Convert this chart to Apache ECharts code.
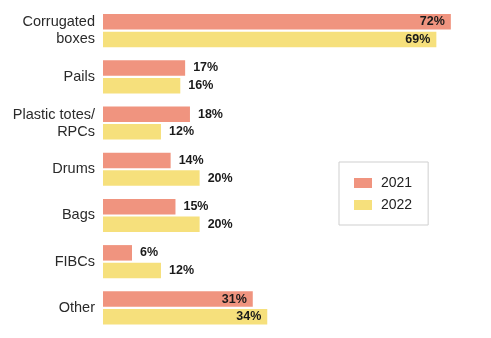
<!DOCTYPE html>
<html><head><meta charset="utf-8">
<script src="https://cdn.jsdelivr.net/npm/echarts@6/dist/echarts.min.js"></script>
<style>html,body{margin:0;padding:0;background:#fff}#c{width:491px;height:338px}</style>
</head><body><div id="c"></div>
<script>
const categories = ["Corrugated\nboxes", "Pails", "Plastic totes/\nRPCs", "Drums", "Bags", "FIBCs", "Other"];
const values2021 = [72, 17, 18, 14, 15, 6, 31];
const values2022 = [69, 16, 12, 20, 20, 12, 34];
const insideCats = ["Corrugated\nboxes", "Other"];

function mk(vals) {
  return vals.map((v, i) => {
    const inside = insideCats.includes(categories[i]);
    return { value: v, label: { position: inside ? 'insideRight' : 'right', distance: inside ? 6 : 8 } };
  });
}
const chart = echarts.init(document.getElementById('c'), null, { renderer: 'canvas' });
const font = '"Liberation Sans", Arial, Helvetica, sans-serif';
const lbl = { show: true, formatter: '{c}%', fontFamily: font, fontWeight: 'bold', fontSize: 12.5, color: '#1a1a1a' };
chart.setOption({
  animation: false,
  textStyle: { fontFamily: font },
  grid: { left: 103, top: 7.5, width: 386.5, height: 323.5, containLabel: false },
  xAxis: { type: 'value', min: 0, max: 80, show: false },
  yAxis: {
    type: 'category', data: categories, inverse: true,
    axisLine: { show: false }, axisTick: { show: false },
    axisLabel: { fontFamily: font, fontSize: 14.5, color: '#2a2a2a', margin: 8, lineHeight: 17, align: 'right' }
  },
  legend: {
    orient: 'vertical', left: 339, top: 162,
    padding: [13, 16, 12, 15],
    borderColor: '#cfcfcf', borderWidth: 1,
    itemWidth: 18, itemHeight: 10, itemGap: 6,
    icon: 'rect',
    textStyle: { fontFamily: font, fontSize: 14, color: '#222', lineHeight: 16, padding: [0, 0, 0, 4] },
    data: ['2021', '2022']
  },
  series: [
    { name: '2021', type: 'bar', data: mk(values2021), barWidth: 15.5, barGap: '14%', itemStyle: { color: '#F0947F' }, label: lbl },
    { name: '2022', type: 'bar', data: mk(values2022), barWidth: 15.5, barGap: '14%', itemStyle: { color: '#F6E07C' }, label: lbl }
  ]
});
</script></body></html>
